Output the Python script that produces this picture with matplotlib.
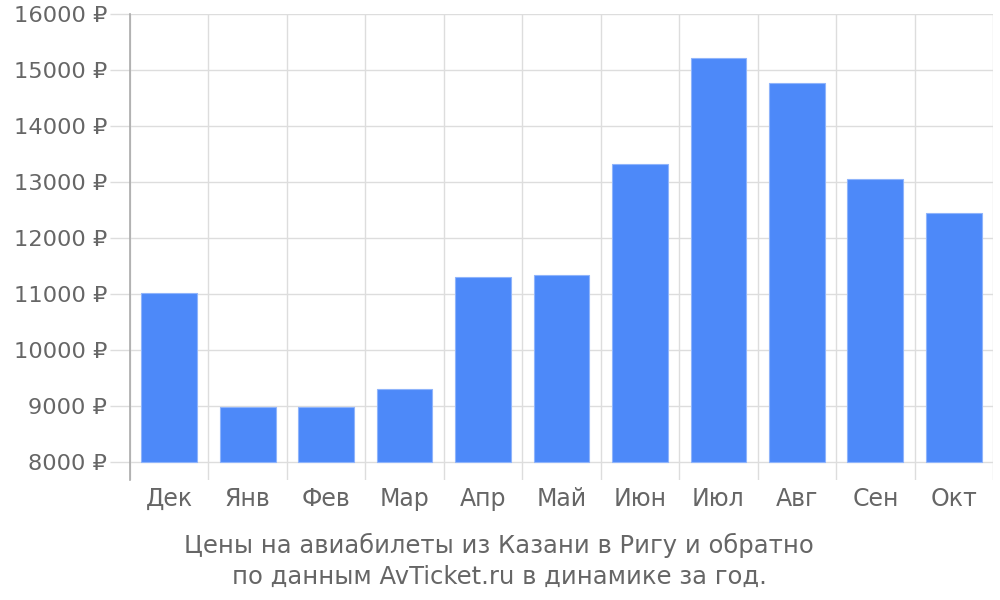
import numpy as np
import matplotlib.pyplot as plt

months = ["Дек", "Янв", "Фев", "Мар", "Апр", "Май", "Июн", "Июл", "Авг", "Сен", "Окт"]
prices = [11020, 8980, 8980, 9300, 11300, 11340, 13320, 15210, 14760, 13060, 12450]
yticks = [8000, 9000, 10000, 11000, 12000, 13000, 14000, 15000, 16000]
caption = "Цены на авиабилеты из Казани в Ригу и обратно\nпо данным AvTicket.ru в динамике за год."

text_color = "#666666"
grid_color = "#dddddd"

fig = plt.figure(figsize=(10, 6), dpi=100)
ax = fig.add_axes([0.13, 0.2, 0.863, 0.7767])

x = np.arange(len(months))
ax.bar(x, np.array(prices) - 8000, bottom=8000, width=0.71,
       color="#4d89f9", edgecolor="#8fb4fb", linewidth=0.8, zorder=3)

ax.set_xlim(-0.5, len(months) - 0.5)
ax.set_ylim(7680, 16000)

ax.set_yticks(yticks)
ax.set_yticklabels([f"{v} ₽" for v in yticks], fontsize=16.2, color=text_color)
ax.tick_params(axis="y", length=14.4, color=grid_color, width=1, pad=2)
ax.grid(axis="y", color=grid_color, linewidth=1, zorder=0)

ax.set_xticks(x)
ax.set_xticklabels(months, fontsize=17, color=text_color)
ax.tick_params(axis="x", length=0, pad=5)
ax.set_xticks(np.arange(-0.5, len(months)), minor=True)
ax.tick_params(axis="x", which="minor", length=0)
ax.grid(axis="x", which="minor", color=grid_color, linewidth=1, zorder=0)

for side in ["top", "right", "bottom"]:
    ax.spines[side].set_visible(False)
ax.spines["left"].set_color("#aaaaaa")
ax.spines["left"].set_linewidth(1.2)

fig.text(0.499, 0.065, caption, ha="center", va="center", fontsize=17.5,
         color=text_color, linespacing=1.35)

fig.savefig("out.png", dpi=100)
